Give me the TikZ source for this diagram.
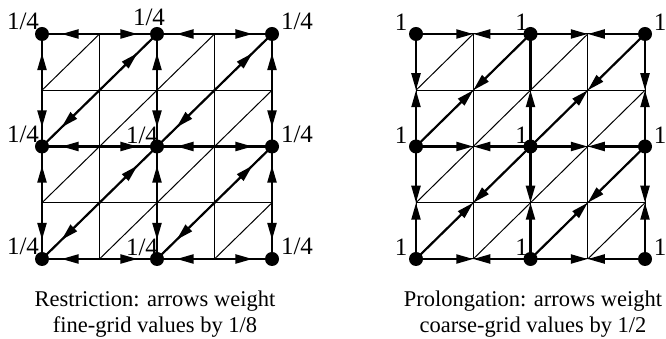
\documentclass[tikz,border=0pt]{standalone}
\usepackage{fontspec}
\setmainfont{Liberation Serif}
\usetikzlibrary{arrows.meta,decorations.markings}
\begin{document}
\begin{tikzpicture}[x=1pt,y=1pt,
  thinline/.style={line width=1pt},
  thickline/.style={line width=2.2pt},
  restr/.style={thickline, decoration={markings, mark=at position 0.66 with {\arrow{Triangle[length=17pt,width=9pt]}}}, postaction={decorate}},
  prolong/.style={thickline, -{Triangle[length=17pt,width=9pt]}},
  dot/.style={circle, fill=black, inner sep=0pt, minimum size=14pt},
  lab/.style={font=\fontsize{25}{28}\selectfont, anchor=base, inner sep=0pt},
  captext/.style={font=\fontsize{22.5}{26}\selectfont, anchor=base, inner sep=0pt}]
\useasboundingbox (0,0) rectangle (666,339);
% grid points
\foreach \i in {0,...,4}{
  \foreach \j in {0,...,4}{
    \coordinate (L\i\j) at ({42+57.5*\i},{80+56.25*\j});
    \coordinate (R\i\j) at ({416+57.25*\i},{80+56.25*\j});
  }
}
% thin fine grid with diagonals
\foreach \g in {L,R}{
  \foreach \k in {0,...,4}{
    \draw[thinline] (\g0\k) -- (\g4\k);
    \draw[thinline] (\g\k0) -- (\g\k4);
  }
  \foreach \i in {0,...,3}{
    \foreach \j in {0,...,3}{
      \pgfmathtruncatemacro\ii{\i+1}
      \pgfmathtruncatemacro\jj{\j+1}
      \draw[thinline] (\g\i\j) -- (\g\ii\jj);
    }
  }
}
% restriction arrows (fine -> coarse)
\foreach \j in {0,2,4}{
  \draw[restr] (L1\j) -- (L0\j);
  \draw[restr] (L1\j) -- (L2\j);
  \draw[restr] (L3\j) -- (L2\j);
  \draw[restr] (L3\j) -- (L4\j);
}
\foreach \i in {0,2,4}{
  \draw[restr] (L\i1) -- (L\i0);
  \draw[restr] (L\i1) -- (L\i2);
  \draw[restr] (L\i3) -- (L\i2);
  \draw[restr] (L\i3) -- (L\i4);
}
\draw[restr] (L11) -- (L00);
\draw[restr] (L11) -- (L22);
\draw[restr] (L33) -- (L22);
\draw[restr] (L33) -- (L44);
\draw[restr] (L13) -- (L02);
\draw[restr] (L13) -- (L24);
\draw[restr] (L31) -- (L20);
\draw[restr] (L31) -- (L42);
% prolongation arrows (coarse -> fine)
\foreach \j in {0,2,4}{
  \draw[prolong] (R0\j) -- (R1\j);
  \draw[prolong] (R2\j) -- (R1\j);
  \draw[prolong] (R2\j) -- (R3\j);
  \draw[prolong] (R4\j) -- (R3\j);
}
\foreach \i in {0,2,4}{
  \draw[prolong] (R\i0) -- (R\i1);
  \draw[prolong] (R\i2) -- (R\i1);
  \draw[prolong] (R\i2) -- (R\i3);
}
\draw[prolong] (R04) -- (R03);
\draw[thickline] (R24) -- (R23);
\draw[prolong] (R44) -- (R43);
\draw[prolong] (R00) -- (R11);
\draw[prolong] (R22) -- (R11);
\draw[prolong] (R22) -- (R33);
\draw[prolong] (R44) -- (R33);
\draw[prolong] (R02) -- (R13);
\draw[prolong] (R24) -- (R13);
\draw[prolong] (R20) -- (R31);
\draw[prolong] (R42) -- (R31);
% coarse-grid dots
\foreach \g in {L,R}{
  \foreach \i in {0,2,4}{
    \foreach \j in {0,2,4}{
      \node[dot] (d\g\i\j) at (\g\i\j) {};
    }
  }
}
% labels, restriction
\foreach \j in {0,2,4}{
  \node[lab] (lL0\j) at ([xshift=-19pt,yshift=4pt]L0\j) {1/4};
  \node[lab] (lL4\j) at ([xshift=25pt,yshift=4pt]L4\j) {1/4};
}
\node[lab] (lL24) at ([xshift=-8pt,yshift=8pt]L24) {1/4};
\node[lab] (lL22) at ([xshift=-15pt,yshift=3pt]L22) {1/4};
\node[lab] (lL20) at ([xshift=-15pt,yshift=3pt]L20) {1/4};
% labels, prolongation
\foreach \j in {0,2,4}{
  \node[lab] (lR0\j) at ([xshift=-15pt,yshift=3pt]R0\j) {1};
  \node[lab] (lR2\j) at ([xshift=-9pt,yshift=3pt]R2\j) {1};
  \node[lab] (lR4\j) at ([xshift=15pt,yshift=3pt]R4\j) {1};
}
% captions
\node[captext] (capL1) at (155,32) {Restriction: arrows weight};
\node[captext] (capL2) at (155,6) {fine-grid values by 1/8};
\node[captext] (capR1) at (533,32) {Prolongation: arrows weight};
\node[captext] (capR2) at (533,6) {coarse-grid values by 1/2};
\end{tikzpicture}
\end{document}
